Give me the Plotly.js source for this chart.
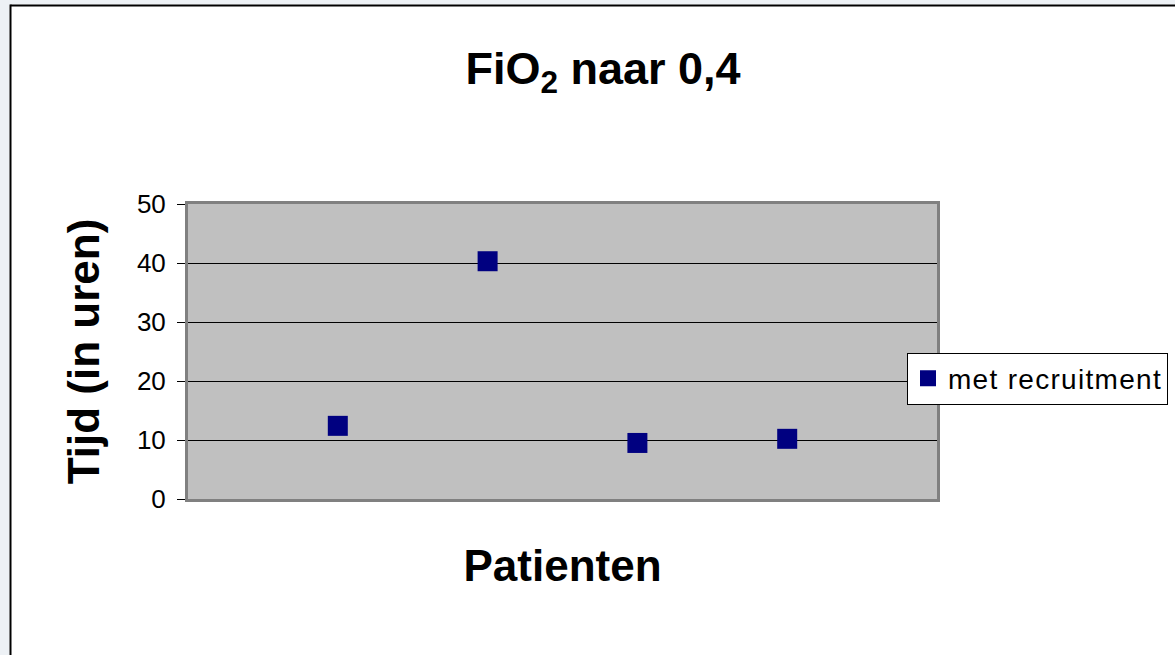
<!DOCTYPE html>
<html>
<head>
<meta charset="utf-8">
<script src="https://cdn.plot.ly/plotly-3.0.1.min.js"></script>
<style>html,body{margin:0;padding:0;background:#fff;}#chart{width:1175px;height:655px;}</style>
</head>
<body>
<div id="chart"></div>
<script>
var patients = [1, 2, 3, 4];
var hours = [12.4, 40.3, 9.5, 10.2];
var seriesName = 'met recruitment';
var yTicks = [0, 10, 20, 30, 40, 50];

var L = 188, R = 937, T = 204, B = 499, W = 1175, H = 655;
function px(x) { return (x - L) / (R - L); }
function py(y) { return (B - y) / (B - T); }

var trace = {
  x: patients, y: hours,
  name: '<span style="letter-spacing:1.3px">' + seriesName + '</span>',
  type: 'scatter', mode: 'markers',
  marker: { symbol: 'square', size: 20, color: '#000080', line: { width: 0 } },
  showlegend: true
};

var layout = {
  width: W, height: H,
  margin: { l: L, r: W - R, t: T, b: H - B, pad: 0, autoexpand: false },
  paper_bgcolor: '#ffffff',
  plot_bgcolor: '#c0c0c0',
  font: { family: 'Arial, Liberation Sans, sans-serif', color: '#000' },
  title: {
    text: '<b>FiO<sub>2</sub> naar 0,4</b>',
    font: { size: 45, color: '#000' },
    x: 603 / W, xanchor: 'center', y: 1 - 68 / H, yanchor: 'middle'
  },
  xaxis: {
    range: [0, 5], showticklabels: false, ticks: '', showgrid: false, zeroline: false,
    showline: true, linecolor: '#808080', linewidth: 3, mirror: true,
    title: { text: '<b>Patienten</b>', font: { size: 44, color: '#000' }, standoff: 50 }
  },
  yaxis: {
    range: [0, 50], tickvals: yTicks, ticktext: yTicks.map(String),
    ticks: 'outside', ticklen: 8, tickcolor: '#000', tickwidth: 1,
    tickfont: { size: 26, color: '#000' }, ticklabelstandoff: 6,
    showgrid: true, gridcolor: '#000', gridwidth: 1, zeroline: false,
    showline: true, linecolor: '#808080', linewidth: 3, mirror: true,
    title: { text: '<b>Tijd (in uren)</b>', font: { size: 44, color: '#000' }, standoff: 24 }
  },
  legend: {
    x: px(907), xanchor: 'left', y: py(378.5), yanchor: 'middle',
    bgcolor: '#ffffff', bordercolor: '#000', borderwidth: 1,
    font: { size: 28, color: '#000' }
  },
  shapes: [
    { type: 'rect', xref: 'paper', yref: 'paper', x0: px(-5), x1: px(9.5), y0: py(700), y1: py(-5), fillcolor: '#edf1f5', line: { width: 0 }, layer: 'below' },
    { type: 'rect', xref: 'paper', yref: 'paper', x0: px(-5), x1: px(1200), y0: py(4.5), y1: py(-5), fillcolor: '#edf1f5', line: { width: 0 }, layer: 'below' },
    { type: 'line', xref: 'paper', yref: 'paper', x0: px(10.5), x1: px(10.5), y0: py(700), y1: py(4.5), line: { color: '#000', width: 2 } },
    { type: 'line', xref: 'paper', yref: 'paper', x0: px(10.5), x1: px(1200), y0: py(5.5), y1: py(5.5), line: { color: '#000', width: 2 } }
  ]
};

Plotly.newPlot('chart', [trace], layout, { displayModeBar: false, staticPlot: true });
</script>
</body>
</html>
